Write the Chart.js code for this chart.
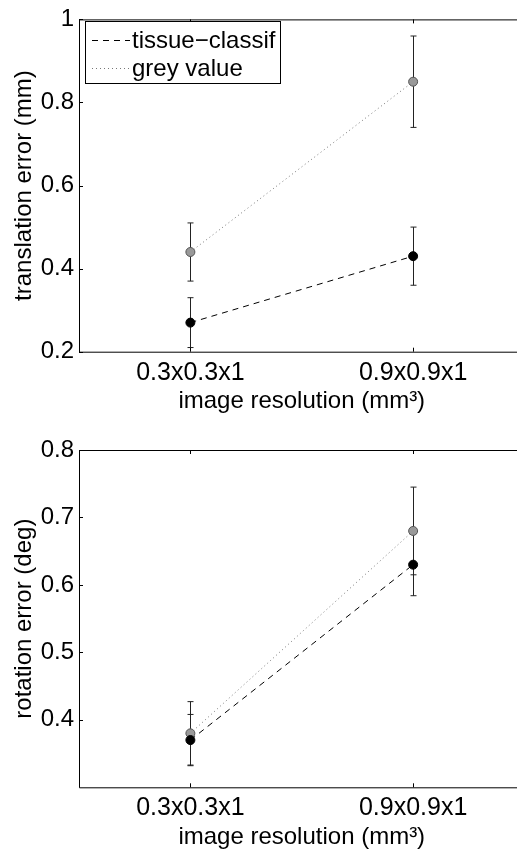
<!DOCTYPE html>
<html>
<head>
<meta charset="utf-8">
<script src="https://cdn.jsdelivr.net/npm/chart.js@4.4.0/dist/chart.umd.min.js"></script>
<style>
html, body { margin: 0; padding: 0; background: #fff; overflow: hidden; }
canvas { position: absolute; left: 0; }
.graf-01 { top: 0; }
.graf-02 { top: 426px; }
</style>
</head>
<body>
<canvas class="graf-01" width="530" height="426"></canvas>
<canvas class="graf-02" width="530" height="426"></canvas>
<script>
const resolutions = ['0.3x0.3x1', '0.9x0.9x1'];
const seriesNames = ['tissue\u2212classif', 'grey value'];

// translation error (mm)
const transTissue = [0.27, 0.43];
const transTissueErr = [0.06, 0.07];
const transGrey = [0.44, 0.85];
const transGreyErr = [0.07, 0.11];
const transTicks = [0.2, 0.4, 0.6, 0.8, 1];

// rotation error (deg)
const rotTissue = [0.37, 0.63];
const rotTissueErr = [0.038, 0.046];
const rotGrey = [0.38, 0.68];
const rotGreyErr = [0.047, 0.065];
const rotTicks = [0.4, 0.5, 0.6, 0.7, 0.8];

const FONT = "'Liberation Sans', Arial, Helvetica, sans-serif";
const FS = 24;
Chart.defaults.font.family = FONT;
Chart.defaults.color = '#000';

// axis box + inward ticks, matlab style
const boxPlugin = {
    id: 'box',
    afterDatasetsDraw(chart) {
        const c = chart.ctx, a = chart.chartArea;
        const xs = chart.scales.x, ys = chart.scales.y;
        c.save();
        c.strokeStyle = '#000';
        c.lineWidth = 1;
        c.beginPath();
        c.moveTo(a.left + 0.5, a.top + 0.5);
        c.lineTo(a.right + 10, a.top + 0.5);
        c.moveTo(a.left + 0.5, a.top);
        c.lineTo(a.left + 0.5, a.bottom + 0.5);
        c.lineTo(a.right + 10, a.bottom + 0.5);
        ys.ticks.forEach(t => {
            const y = Math.round(ys.getPixelForValue(t.value)) + 0.5;
            c.moveTo(a.left, y);
            c.lineTo(a.left + 4, y);
        });
        xs.ticks.forEach((t, i) => {
            const x = Math.round(xs.getPixelForTick(i)) + 0.5;
            c.moveTo(x, a.top);
            c.lineTo(x, a.top + 4);
            c.moveTo(x, a.bottom);
            c.lineTo(x, a.bottom - 4);
        });
        c.stroke();
        c.restore();
    }
};

// vertical error bars
const errPlugin = {
    id: 'errbars',
    beforeDatasetsDraw(chart) {
        const c = chart.ctx;
        const xs = chart.scales.x, ys = chart.scales.y;
        c.save();
        c.strokeStyle = '#222';
        c.lineWidth = 1;
        chart.data.datasets.forEach(ds => {
            ds.data.forEach((v, i) => {
                const e = ds.errors[i];
                const x = Math.round(xs.getPixelForValue(i)) + 0.5;
                const y1 = ys.getPixelForValue(v + e);
                const y2 = ys.getPixelForValue(v - e);
                c.beginPath();
                c.moveTo(x, y1); c.lineTo(x, y2);
                c.moveTo(x - 3, y1); c.lineTo(x + 3, y1);
                c.moveTo(x - 3, y2); c.lineTo(x + 3, y2);
                c.stroke();
            });
        });
        c.restore();
    }
};

// legend box in the upper left corner (top plot only)
const legendPlugin = {
    id: 'boxlegend',
    afterDraw(chart, args, opts) {
        if (!opts.show) return;
        const c = chart.ctx;
        c.save();
        c.font = FS + 'px ' + FONT;
        const textX = 132;
        const w = Math.max(...chart.data.datasets.map(d => c.measureText(d.label).width));
        const left = 85.5, top = 21.5, right = Math.round(textX + w + 5) + 0.5, bottom = 83.5;
        c.fillStyle = '#fff';
        c.fillRect(left, top, right - left, bottom - top);
        c.strokeStyle = '#000';
        c.lineWidth = 1;
        c.strokeRect(left, top, right - left, bottom - top);
        chart.data.datasets.forEach((d, i) => {
            const y = 40.5 + i * 28;
            c.strokeStyle = d.borderColor;
            c.setLineDash(d.borderDash);
            c.beginPath();
            c.moveTo(92, y); c.lineTo(130, y);
            c.stroke();
            c.setLineDash([]);
            c.fillStyle = '#000';
            c.textBaseline = 'middle';
            c.fillText(d.label, textX, y + 1);
        });
        c.restore();
    }
};

function makeDatasets(tissue, tissueErr, grey, greyErr) {
    return [{
        label: seriesNames[0],
        data: tissue,
        errors: tissueErr,
        borderColor: '#000',
        borderDash: [6, 5],
        borderWidth: 1,
        pointBackgroundColor: '#000',
        pointBorderColor: '#000',
        pointBorderWidth: 1,
        pointRadius: 4.5,
        fill: false
    }, {
        label: seriesNames[1],
        data: grey,
        errors: greyErr,
        borderColor: '#777',
        borderDash: [1, 3],
        borderWidth: 1,
        pointBackgroundColor: '#999',
        pointBorderColor: '#555',
        pointBorderWidth: 1,
        pointRadius: 4.5,
        fill: false
    }];
}

function makeOptions(yMin, yMax, ticks, yTitle, padTop, xHeight, titlePad, showLegend) {
    return {
        responsive: false,
        animation: false,
        layout: { padding: { top: padTop, right: 4.3, left: 0, bottom: 0 } },
        plugins: {
            legend: { display: false },
            tooltip: { enabled: false },
            boxlegend: { show: showLegend }
        },
        scales: {
            x: {
                type: 'category',
                offset: true,
                grid: { display: false, drawTicks: false },
                border: { display: false },
                ticks: { font: { size: FS + 1 }, padding: 6, maxRotation: 0, autoSkip: false },
                title: { display: true, text: 'image resolution (mm\u00b3)', font: { size: FS }, padding: { top: 0, bottom: titlePad } },
                afterFit: s => { s.height = xHeight; }
            },
            y: {
                min: yMin,
                max: yMax,
                grid: { display: false, drawTicks: false },
                border: { display: false },
                afterBuildTicks: s => { s.ticks = ticks.map(v => ({ value: v })); },
                ticks: { font: { size: FS }, padding: 5, callback: v => String(v) },
                title: { display: true, text: yTitle, font: { size: FS }, padding: { top: 10, bottom: 0 } },
                afterFit: s => { s.width = 79; }
            }
        }
    };
}

let myChart = new Chart(document.querySelector('.graf-01'), {
    type: 'line',
    data: { labels: resolutions, datasets: makeDatasets(transTissue, transTissueErr, transGrey, transGreyErr) },
    options: makeOptions(0.2, 1, transTicks, 'translation error (mm)', 15, 74.3, 10.5, true),
    plugins: [errPlugin, boxPlugin, legendPlugin]
});

let myChart2 = new Chart(document.querySelector('.graf-02'), {
    type: 'line',
    data: { labels: resolutions, datasets: makeDatasets(rotTissue, rotTissueErr, rotGrey, rotGreyErr) },
    options: makeOptions(0.3, 0.8, rotTicks, 'rotation error (deg)', 24, 64.7, 0, false),
    plugins: [errPlugin, boxPlugin, legendPlugin]
});
</script>
</body>
</html>
